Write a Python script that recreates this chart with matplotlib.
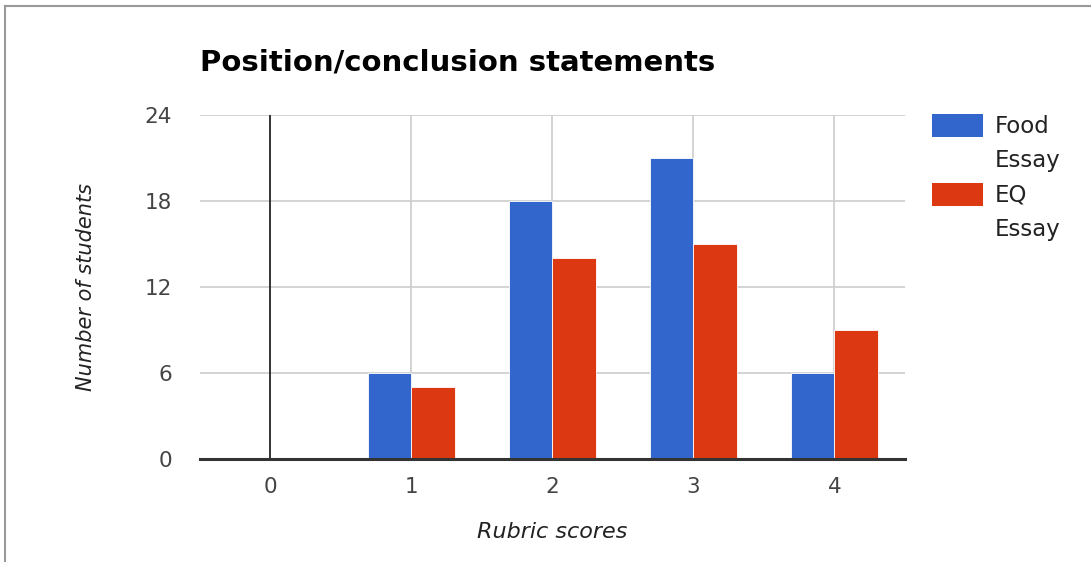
import numpy as np
import matplotlib.pyplot as plt
from matplotlib.patches import Rectangle

# Rubric score counts for the two essays
scores = [0, 1, 2, 3, 4]
food_essay = [0, 6, 18, 21, 6]
eq_essay = [0, 5, 14, 15, 9]
y_ticks = [0, 6, 12, 18, 24]
legend_rows = [('Food', 'Essay'), ('EQ', 'Essay')]

BLUE = '#3366cc'
RED = '#dc3912'
BAR_W = 0.31

plt.rcParams['font.family'] = ['DejaVu Sans']

fig = plt.figure(figsize=(10.91, 5.62), dpi=100)
ax = fig.add_axes([0.1833, 0.1833, 0.6462, 0.6121])

x = np.array(scores, dtype=float)
ax.bar(x - BAR_W / 2, food_essay, width=BAR_W, color=BLUE, edgecolor='white', linewidth=0.6, zorder=3)
ax.bar(x + BAR_W / 2, eq_essay, width=BAR_W, color=RED, edgecolor='white', linewidth=0.6, zorder=3)

ax.set_xlim(-0.5, 4.5)
ax.set_ylim(0, 24)
ax.set_xticks(scores)
ax.set_yticks(y_ticks)

# gridlines: light grey, with a dark baseline at x=0 and y=0
for s in scores[1:]:
    ax.axvline(s, color='#cccccc', linewidth=1.2, zorder=1)
for t in y_ticks[1:]:
    ax.axhline(t, color='#cccccc', linewidth=1.2, zorder=1)
ax.axvline(0, color='#333333', linewidth=1.4, zorder=2)
ax.axhline(0, color='#333333', linewidth=2.2, zorder=4, clip_on=False)

for sp in ax.spines.values():
    sp.set_visible(False)
ax.tick_params(length=0, labelsize=15.5, labelcolor='#444444')
ax.tick_params(axis='x', pad=13)
ax.tick_params(axis='y', pad=20)

ax.set_xlabel('Rubric scores', fontsize=16, style='italic', color='#222222', labelpad=18)
ax.set_ylabel('Number of students', fontsize=15, style='italic', color='#222222', labelpad=35)

fig.text(0.1833, 0.889, 'Position/conclusion statements', fontsize=21, fontweight='bold',
         color='black', ha='left', va='center')

# legend drawn by hand so the swatch sits beside the first line of text
W, H = 1091, 562
for (top, (l1, l2), col) in zip([114, 183], legend_rows, [BLUE, RED]):
    fig.patches.append(Rectangle((932 / W, 1 - (top + 23) / H), 51 / W, 23 / H,
                                 transform=fig.transFigure, facecolor=col, edgecolor='none'))
    fig.text(995 / W, 1 - (top + 12) / H, l1, fontsize=16.5, color='#222222', ha='left', va='center')
    fig.text(995 / W, 1 - (top + 46) / H, l2, fontsize=16.5, color='#222222', ha='left', va='center')

# thin grey frame along the top and left edges
fig.add_artist(plt.Line2D([5 / W, 1], [1 - 6 / H, 1 - 6 / H], transform=fig.transFigure,
                          color='#999999', linewidth=1.5))
fig.add_artist(plt.Line2D([5 / W, 5 / W], [0, 1 - 6 / H], transform=fig.transFigure,
                          color='#999999', linewidth=1.5))

fig.savefig('out.png', dpi=100)
